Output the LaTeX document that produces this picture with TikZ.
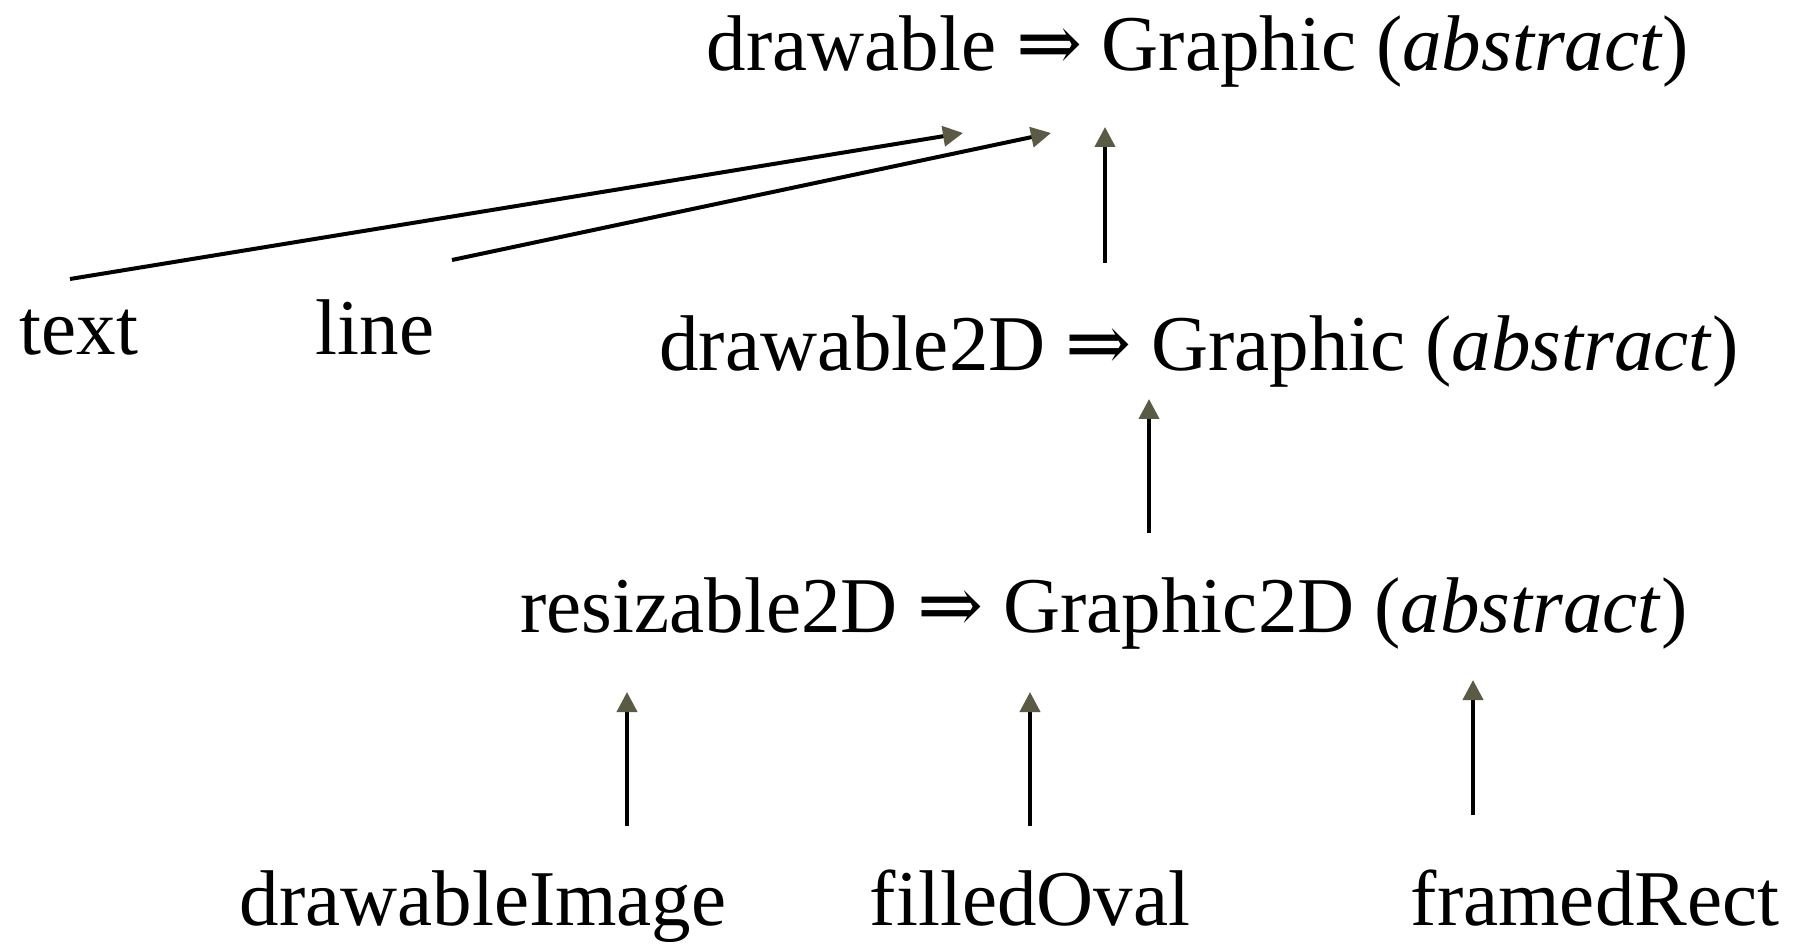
\documentclass[tikz,border=0pt]{standalone}
\usepackage{fontspec}
\setmainfont{Liberation Serif}
\newfontfamily\arrowfont{DejaVu Serif}
\usetikzlibrary{arrows.meta}
\definecolor{tipc}{HTML}{5A5A45}
\newcommand{\impl}{{\arrowfont ⇒}}
\tikzset{
  lbl/.style={anchor=base, inner sep=0pt, font=\fontsize{39.5}{46}\selectfont},
  inh/.style={line width=2pt, -{Triangle[length=10pt,width=10pt,color=tipc]}},
}
\begin{document}
\begin{tikzpicture}[x=0.5pt,y=-0.5pt]
\useasboundingbox (0,0) rectangle (1807,945);
\node[lbl] (drawable) at (1198,71) {drawable \impl{} Graphic (\textit{abstract})};
\node[lbl] (text) at (79,355) {text};
\node[lbl] (line) at (375,355) {line};
\node[lbl] (drawable2D) at (1199,371) {drawable2D \impl{} Graphic (\textit{abstract})};
\node[lbl] (resizable2D) at (1104,632) {resizable2D \impl{} Graphic2D (\textit{abstract})};
\node[lbl] (image) at (483,925) {drawableImage};
\node[lbl] (oval) at (1030,925) {filledOval};
\node[lbl] (rect) at (1595,925) {framedRect};
% connector end points
\coordinate (textS) at (70,279);
\coordinate (textE) at (963,133);
\coordinate (lineS) at (452,260);
\coordinate (lineE) at (1051,133);
\coordinate (d2S) at (1105,263);
\coordinate (d2E) at (1105,127);
\coordinate (r2S) at (1149,533);
\coordinate (r2E) at (1149,399);
\coordinate (imS) at (627,826);
\coordinate (imE) at (627,692);
\coordinate (ovS) at (1030,826);
\coordinate (ovE) at (1030,692);
\coordinate (reS) at (1473,815);
\coordinate (reE) at (1473,680);
\draw[inh] (textS) -- (textE);
\draw[inh] (lineS) -- (lineE);
\draw[inh] (d2S) -- (d2E);
\draw[inh] (r2S) -- (r2E);
\draw[inh] (imS) -- (imE);
\draw[inh] (ovS) -- (ovE);
\draw[inh] (reS) -- (reE);
\end{tikzpicture}
\end{document}
